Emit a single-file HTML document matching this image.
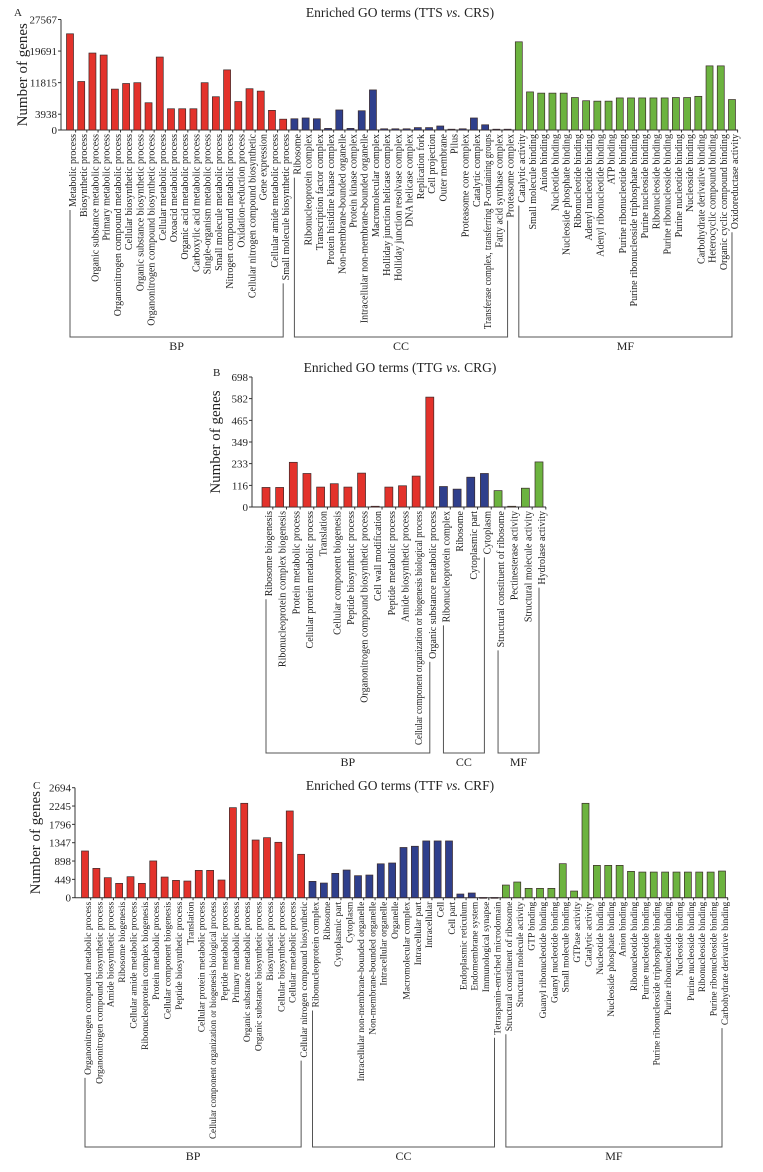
<!DOCTYPE html>
<html><head><meta charset="utf-8">
<style>
html,body{margin:0;padding:0;background:#fff;}
svg{display:block;font-family:"Liberation Serif",serif;}
</style></head>
<body>
<svg id="chart" width="763" height="1172" viewBox="0 0 763 1172" xmlns="http://www.w3.org/2000/svg"></svg>
<script>
// ---------- Panel A data ----------
const aCategories = ["Metabolic process","Biosynthetic process","Organic substance metabolic process","Primary metabolic process","Organonitrogen compound metabolic process","Cellular biosynthetic process","Organic substance biosynthetic process","Organonitrogen compound biosynthetic process","Cellular metabolic process","Oxoacid metabolic process","Organic acid metabolic process","Carboxylic acid metabolic process","Single-organism metabolic process","Small molecule metabolic process","Nitrogen compound metabolic process","Oxidation-reduction process","Cellular nitrogen compound biosynthetic","Gene expression","Cellular amide metabolic process","Small molecule biosynthetic process",
"Ribosome","Ribonucleoprotein complex","Transcription factor complex","Protein histidine kinase complex","Non-membrane-bounded organelle","Protein kinase complex","Intracellular non-membrane-bounded organelle","Macromolecular complex","Holliday junction helicase complex","Holliday junction resolvase complex","DNA helicase complex","Replication fork","Cell projection","Outer membrane","Pilus","Proteasome core complex","Catalytic complex","Transferase complex, transferring P-containing groups","Fatty acid synthase complex","Proteasome complex",
"Catalytic activity","Small molecule binding","Anion binding","Nucleotide binding","Nucleoside phosphate binding","Ribonucleotide binding","Adenyl nucleotide binding","Adenyl ribonucleotide binding","ATP binding","Purine ribonucleotide binding","Purine ribonucleoside triphosphate binding","Purine nucleoside binding","Ribonucleoside binding","Purine ribonucleoside binding","Purine nucleotide binding","Nucleoside binding","Carbohydrate derivative binding","Heterocyclic compound binding","Organic cyclic compound binding","Oxidoreductase activity"];
const aValues = [24000,12100,19200,18700,10200,11600,11800,6800,18200,5300,5300,5300,11800,8300,15000,7100,10300,9700,4900,2700,
2800,3000,2800,400,5000,400,4800,10000,300,300,300,600,600,1000,200,300,3000,1300,200,200,
22000,9500,9200,9200,9200,8100,7300,7200,7200,8000,8000,8000,8000,8000,8100,8100,8400,16000,16000,7600];
const aGroups = ["BP","CC","MF"];
const aGroupSizes = [20,20,20];
const aTicks = [0,3938,11815,19691,27567];

// ---------- Panel B data ----------
const bCategories = ["Ribosome biogenesis","Ribonucleoprotein complex biogenesis","Protein metabolic process","Cellular protein metabolic process","Translation","Cellular component biogenesis","Peptide biosynthetic process","Organonitrogen compound biosynthetic process","Cell wall modification","Peptide metabolic process","Amide biosynthetic process","Cellular component organization or biogenesis biological process","Organic substance metabolic process",
"Ribonucleoprotein complex","Ribosome","Cytoplasmic part","Cytoplasm",
"Structural constituent of ribosome","Pectinesterase activity","Structural molecule activity","Hydrolase activity"];
const bValues = [105,105,240,180,107,125,107,182,4,107,114,166,590, 110,96,160,180, 88,4,101,242];
const bGroups = ["BP","CC","MF"];
const bGroupSizes = [13,4,4];
const bTicks = [0,116,233,349,465,582,698];

// ---------- Panel C data ----------
const cCategories = ["Organonitrogen compound metabolic process","Organonitrogen compound biosynthetic process","Amide biosynthetic process","Ribosome biogenesis","Cellular amide metabolic process","Ribonucleoprotein complex biogenesis","Protein metabolic process","Cellular component biogenesis","Peptide biosynthetic process","Translation","Cellular protein metabolic process","Cellular component organization or biogenesis biological process","Peptide metabolic process","Primary metabolic process","Organic substance metabolic process","Organic substance biosynthetic process","Biosynthetic process","Cellular biosynthetic process","Cellular metabolic process","Cellular nitrogen compound biosynthetic",
"Ribonucleoprotein complex","Ribosome","Cytoplasmic part","Cytoplasm","Intracellular non-membrane-bounded organelle","Non-membrane-bounded organelle","Intracellular organelle","Organelle","Macromolecular complex","Intracellular part","Intracellular","Cell","Cell part","Endoplasmic reticulum","Endomembrane system","Immunological synapse","Tetraspanin-enriched microdomain",
"Structural constituent of ribosome","Structural molecule activity","GTP binding","Guanyl ribonucleotide binding","Guanyl nucleotide binding","Small molecule binding","GTPase activity","Catalytic activity","Nucleotide binding","Nucleoside phosphate binding","Anion binding","Ribonucleotide binding","Purine nucleotide binding","Purine ribonucleoside triphosphate binding","Purine ribonucleotide binding","Nucleoside binding","Purine nucleoside binding","Ribonucleoside binding","Purine ribonucleoside binding","Carbohydrate derivative binding"];
const cValues = [1144,718,490,351,514,351,900,506,424,408,669,669,433,2205,2312,1413,1470,1357,2124,1063,
400,359,596,678,539,555,830,850,1230,1260,1390,1390,1390,90,115,5,5,
310,384,229,229,229,833,163,2312,792,792,792,645,628,628,628,628,628,628,628,653];
const cGroups = ["BP","CC","MF"];
const cGroupSizes = [20,17,20];
const cTicks = [0,449,898,1347,1796,2245,2694];

const colors = {BP:"#e3322b", CC:"#2f3f8c", MF:"#6cb33f"};
const svg = document.getElementById('chart');
const NS = "http://www.w3.org/2000/svg";
function mk(tag, attrs, parent){
  const e = document.createElementNS(NS, tag);
  for (const k in attrs) e.setAttribute(k, attrs[k]);
  (parent||svg).appendChild(e);
  return e;
}

function drawPanel(id, letter, title, vsPre, vsPost, cats, vals, groups, sizes, ticks, L){
  const g = mk('g', {});
  
  
  const maxV = ticks[ticks.length-1];
  const y = v => L.base - (v / maxV) * (L.base - L.top);
  const x = i => L.x0 + i * L.step;

  const lt = mk('text', {x:L.letterX, y:L.letterY, 'font-size':11, fill:'#222'}, g);
  lt.textContent = letter;
  
  

  const tt = mk('text', {x:L.titleX, y:L.titleY, 'font-size':13.5, 'text-anchor':'middle', fill:'#222'}, g);
  
  
  tt.appendChild(document.createTextNode(title));
  const it = mk('tspan', {'font-style':'italic'}, tt); it.textContent = 'vs.';
  tt.appendChild(document.createTextNode(vsPost));

  const yt = mk('text', {x:0, y:0, 'font-size':15, 'text-anchor':'middle', fill:'#222',
    transform:`translate(${L.yTitleX},${(L.base+L.top)/2}) rotate(-90)`}, g);
  yt.textContent = 'Number of genes';
  
  

  // axes
  const ax = mk('line', {x1:L.axisX, y1:L.top, x2:L.axisX, y2:L.base, stroke:'#333', 'stroke-width':1}, g);
  
  
  const bx = mk('line', {x1:L.axisX, y1:L.base, x2:L.axisEnd, y2:L.base, stroke:'#333', 'stroke-width':1}, g);
  
  

  ticks.forEach(t => {
    mk('line', {x1:L.axisX-3, y1:y(t), x2:L.axisX, y2:y(t), stroke:'#333'}, g);
    const tl = mk('text', {x:L.axisX-4, y:y(t)+4, 'font-size':11, 'text-anchor':'end', fill:'#222'}, g);
    tl.textContent = t;
    
    
  });

  // group lookup
  const grpOf = [];
  groups.forEach((gr, gi) => { for (let k=0;k<sizes[gi];k++) grpOf.push(gr); });

  const labelEnds = [];
  cats.forEach((c, i) => {
    const cx = x(i);
    if (i < cats.length) mk('line', {x1:cx+L.step/2, y1:L.base, x2:cx+L.step/2, y2:L.base+2.5, stroke:'#333'}, g);
    const h = L.base - y(vals[i]);
    const r = mk('rect', {x:cx - L.bw/2, y:y(vals[i]), width:L.bw, height:Math.max(h,0.8),
      fill:colors[grpOf[i]], stroke:'#3a2a2a', 'stroke-width':0.7}, g);
    
    
    const ly = L.base + 4;
    const tx = mk('text', {x:cx + L.lblOff, y:ly, 'font-size':L.fs, 'text-anchor':'end', fill:'#222',
      transform:`rotate(-90 ${cx + L.lblOff} ${ly})`}, g);
    tx.textContent = c;
    
    
    let len = tx.getComputedTextLength();
    const maxLen = L.brY - ly - 8;
    if (len > maxLen) { tx.setAttribute('textLength', maxLen); tx.setAttribute('lengthAdjust','spacingAndGlyphs'); len = maxLen; }
    labelEnds.push(ly + len + 3);
  });

  // brackets
  let start = 0;
  groups.forEach((gr, gi) => {
    const s = start, e = start + sizes[gi] - 1;
    const x1 = x(s), x2 = x(e);
    const p = mk('path', {d:`M${x1},${labelEnds[s]} V${L.brY} H${x2} V${labelEnds[e]}`, fill:'none', stroke:'#555', 'stroke-width':1}, g);
    
    
    const gl = mk('text', {x:(x1+x2)/2, y:L.brY+13, 'font-size':12, 'text-anchor':'middle', fill:'#222'}, g);
    gl.textContent = gr;
    
    
    start += sizes[gi];
  });
}

drawPanel('a','A','Enriched GO terms (TTS ','vs.',' CRS)', aCategories, aValues, aGroups, aGroupSizes, aTicks,
  {x0:70, step:11.22, bw:7, top:19.5, base:130, axisX:61, axisEnd:738, letterX:14, letterY:16, titleX:400, titleY:17,
   yTitleX:27, lblOff:6, fs:10, brY:337});
drawPanel('b','B','Enriched GO terms (TTG ','vs.',' CRG)', bCategories, bValues, bGroups, bGroupSizes, bTicks,
  {x0:266, step:13.65, bw:8, top:377, base:507, axisX:252, axisEnd:546, letterX:213, letterY:376, titleX:400, titleY:372,
   yTitleX:220, lblOff:6, fs:10, brY:753});
drawPanel('c','C','Enriched GO terms (TTF ','vs.',' CRF)', cCategories, cValues, cGroups, cGroupSizes, cTicks,
  {x0:85, step:11.375, bw:7, top:787.7, base:897.7, axisX:75, axisEnd:728, letterX:33, letterY:789, titleX:400, titleY:790,
   yTitleX:40, lblOff:6, fs:9.5, brY:1147});
</script>
</body></html>
